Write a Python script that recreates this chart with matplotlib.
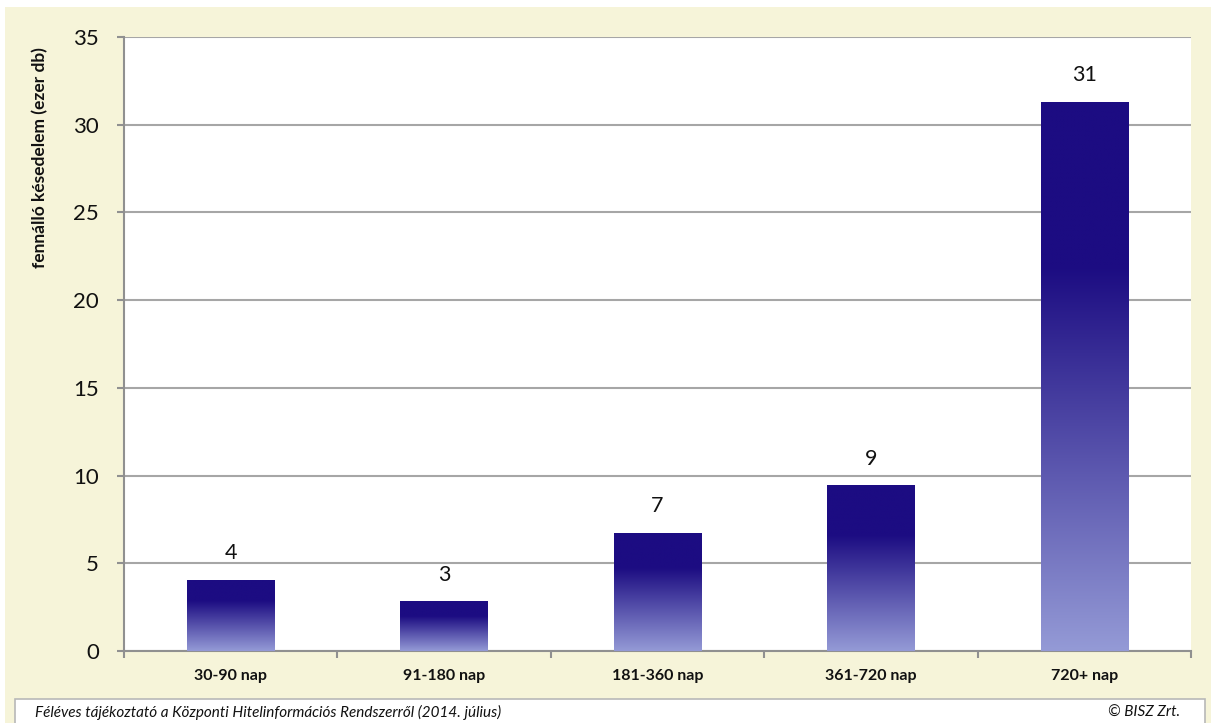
import numpy as np
import matplotlib
matplotlib.use("Agg")
import matplotlib.pyplot as plt
from matplotlib.patches import Rectangle
from matplotlib.colors import LinearSegmentedColormap

categories = ["30-90 nap", "91-180 nap", "181-360 nap", "361-720 nap", "720+ nap"]
values = [4.05, 2.83, 6.75, 9.45, 31.3]
y_ticks = [0, 5, 10, 15, 20, 25, 30, 35]
y_label = "fennálló késedelem (ezer db)"
footer_left = "Féléves tájékoztató a Központi Hitelinformációs Rendszerről (2014. július)"
footer_right = "© BISZ Zrt."

plt.rcParams["font.family"] = ["Lato", "DejaVu Sans"]

W, H = 1211, 723
fig = plt.figure(figsize=(W / 100, H / 100), dpi=100)
fig.patch.set_facecolor("white")

# cream chart background and white footer box
fig.patches.append(Rectangle((5 / W, 0), 1 - 5 / W, 1 - 7 / H, transform=fig.transFigure,
                             facecolor="#F6F4D9", edgecolor="none", zorder=0))
fig.patches.append(Rectangle((15 / W, -0.01), (1205 - 15) / W, (0.01 + (H - 699) / H),
                             transform=fig.transFigure, facecolor="white",
                             edgecolor="#B8B8B8", linewidth=1.2, zorder=1))

ax = fig.add_axes([124 / W, 1 - 651 / H, (1191 - 124) / W, (651 - 37) / H])
ax.set_zorder(3)
ax.set_facecolor("white")

x = np.arange(len(categories))
bar_w = 0.41
bars = ax.bar(x, values, width=bar_w, color="none", edgecolor="none", zorder=3)

# vertical gradient: solid navy at the top, fading to lavender at the base
dark = np.array([28, 12, 130]) / 255
light = np.array([148, 154, 214]) / 255
cmap = LinearSegmentedColormap.from_list(
    "barfade", [(0.0, light), (0.70, dark), (1.0, dark)])
grad = np.linspace(0, 1, 256).reshape(-1, 1)
for rect, v in zip(bars, values):
    x0 = rect.get_x()
    im = ax.imshow(grad, cmap=cmap, origin="lower", aspect="auto",
                   extent=[x0, x0 + bar_w, 0, v], zorder=3, interpolation="bilinear")
    im.set_clip_path(rect)
    ax.annotate(f"{v:.0f}", (x0 + bar_w / 2, v), xytext=(0, 12), textcoords="offset points",
                ha="center", va="bottom", fontsize=15.5, color="#111111")

ax.set_xlim(-0.5, len(categories) - 0.5)
ax.set_ylim(0, 35)
ax.set_yticks(y_ticks)
ax.set_yticklabels([str(t) for t in y_ticks], fontsize=16, color="#111111")
ax.yaxis.grid(True, color="#A6A6A6", linewidth=1.5, zorder=0)
ax.set_axisbelow(True)

ax.set_xticks(x)
ax.set_xticklabels(categories, fontsize=11.5, fontweight="bold", color="#111111")
ax.set_xticks(np.arange(-0.5, len(categories), 1.0), minor=True)
ax.tick_params(axis="x", which="major", length=0, pad=13)
ax.tick_params(axis="x", which="minor", length=5, width=1.5, color="#909090")
ax.tick_params(axis="y", which="major", length=5, width=1.5, color="#909090", pad=13)

for s in ["top", "right"]:
    ax.spines[s].set_visible(False)
for s in ["left", "bottom"]:
    ax.spines[s].set_color("#909090")
    ax.spines[s].set_linewidth(1.5)

fig.text(40 / W, 1 - 158 / H, y_label, rotation=90, ha="center", va="center",
         fontsize=12.5, fontweight="bold", color="#111111")

fig.text(35 / W, 1 - 717 / H, footer_left, ha="left", va="baseline",
         fontsize=11, style="italic", color="#111111", zorder=5)
fig.text(1180 / W, 1 - 717 / H, footer_right, ha="right", va="baseline",
         fontsize=11, style="italic", color="#111111", zorder=5)

fig.savefig("out.png", dpi=100, facecolor=fig.get_facecolor())
